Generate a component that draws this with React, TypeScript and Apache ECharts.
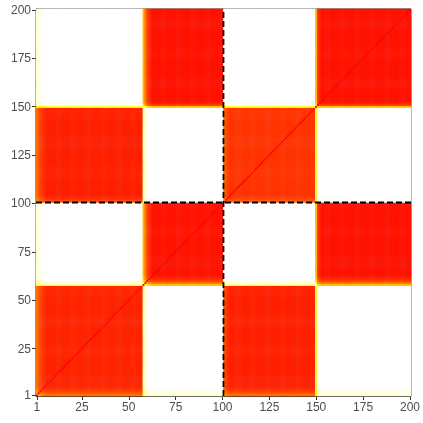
import React, { useEffect, useRef } from "react";
import * as echarts from "echarts";

// ---- data ----
const itemCount = 200;
const groupStarts = [1, 58, 101, 150];
const groupEnds = [57, 100, 149, 200];
// co-clustering level of each pair of groups (rows/cols: A, B, C, D)
const blockLevel = [
  [0.91, 0.0, 0.92, 0.0],
  [0.0, 0.95, 0.0, 0.955],
  [0.92, 0.0, 0.87, 0.0],
  [0.0, 0.955, 0.0, 0.955],
];
const diagonalLevel = 1.0;
// uncertain items at the edge of the groups
const fringeItems = [1, 2, 3, 4, 5, 58, 59, 60, 61, 62, 101, 102, 103, 150, 151, 152];
const fringeDeficit = [0.2, 0.13, 0.08, 0.05, 0.02, 0.4, 0.24, 0.12, 0.06, 0.03, 0.12, 0.06, 0.03, 0.42, 0.1, 0.04];
const fringeLeak = [0.09, 0.06, 0.04, 0.02, 0.01, 0.2, 0.07, 0.03, 0.01, 0.0, 0.02, 0.01, 0.0, 0.32, 0.04, 0.01];
const dashedAt = [100.5];
const tickLabels = [1, 25, 50, 75, 100, 125, 150, 175, 200];
const heatColors = [
  "#FFFFFF", "#FFFFD0", "#FFFF90", "#FFFF40", "#FFF000", "#FFD000",
  "#FFA800", "#FF7800", "#FF5000", "#FF2800", "#FF0000",
];

const categories = Array.from({ length: itemCount }, (_, k) => String(k + 1));

function groupOf(item: number): number {
  for (let g = 0; g < groupStarts.length; g++) {
    if (item >= groupStarts[g] && item <= groupEnds[g]) return g;
  }
  return 0;
}
function deficit(item: number): number {
  const k = fringeItems.indexOf(item);
  return k >= 0 ? fringeDeficit[k] : 0;
}
function leak(item: number): number {
  const k = fringeItems.indexOf(item);
  return k >= 0 ? fringeLeak[k] : 0;
}
function cellValue(i: number, j: number): number {
  if (i === j) return diagonalLevel;
  const base = blockLevel[groupOf(j)][groupOf(i)];
  const v = base > 0.5 ? base - deficit(i) - deficit(j) : base + leak(i) + leak(j);
  return Math.max(0, Math.min(1, v));
}

function buildData() {
  const out: number[][] = [];
  for (let x = 1; x <= itemCount; x++) {
    for (let y = 1; y <= itemCount; y++) {
      out.push([x - 1, y - 1, cellValue(x, y)]);
    }
  }
  return out;
}

const showTick = (_: number, value: string) => tickLabels.includes(Number(value));

export default function App() {
  const ref = useRef<HTMLDivElement>(null);
  useEffect(() => {
    if (!ref.current) return;
    const chart = echarts.init(ref.current, null, { renderer: "svg" });
    const axisCommon = {
      type: "category",
      data: categories,
      axisLine: { show: true, lineStyle: { color: "#333", width: 1 } },
      axisTick: { show: true, interval: showTick, alignWithLabel: true, length: 4, lineStyle: { color: "#333" } },
      axisLabel: { interval: showTick, color: "#4d4d4d", fontSize: 12, fontFamily: "Liberation Sans", margin: 5 },
      splitLine: { show: false },
    };
    const hidden = { type: "value", min: 0.5, max: 200.5, show: false };
    chart.setOption({
      animation: false,
      grid: { left: 36, right: 10, top: 9, bottom: 27, show: true, borderColor: "#333", borderWidth: 1, backgroundColor: "transparent" },
      xAxis: [axisCommon, { ...hidden }],
      yAxis: [axisCommon, { ...hidden }],
      visualMap: { show: false, min: 0, max: 1, calculable: false, seriesIndex: 0, inRange: { color: heatColors } },
      series: [
        {
          type: "heatmap",
          data: buildData(),
          progressive: 0,
          emphasis: { disabled: true },
          itemStyle: { borderWidth: 0 },
        },
        ...dashedAt.flatMap((p) => [
          {
            type: "line",
            xAxisIndex: 1,
            yAxisIndex: 1,
            data: [[p, 0.5], [p, 200.5]],
            symbol: "none",
            silent: true,
            z: 10,
            lineStyle: { color: "#000", width: 1.8, type: [6, 3] },
          },
          {
            type: "line",
            xAxisIndex: 1,
            yAxisIndex: 1,
            data: [[0.5, p], [200.5, p]],
            symbol: "none",
            silent: true,
            z: 10,
            lineStyle: { color: "#000", width: 1.8, type: [6, 3] },
          },
        ]),
      ],
    });
    return () => chart.dispose();
  }, []);
  return <div ref={ref} style={{ position: "fixed", left: 0, top: 0, width: 423, height: 423 }} />;
}
